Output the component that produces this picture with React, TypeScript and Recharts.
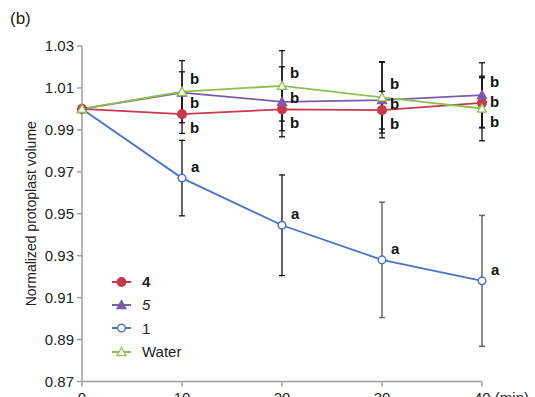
import React from 'react';
import { LineChart, Line, XAxis, YAxis, ErrorBar, LabelList } from 'recharts';

const TIMES = [0, 10, 20, 30, 40];
const Y_TICKS = [0.87, 0.89, 0.91, 0.93, 0.95, 0.97, 0.99, 1.01, 1.03];

const VAL_4 = [1.0, 0.9975, 0.9998, 0.9994, 1.0029];
const ERR_4 = [null, 0.0092, 0.0102, 0.009, 0.012];
const VAL_5 = [1.0, 1.0078, 1.0034, 1.0042, 1.0066];
const ERR_5 = [null, 0.0099, 0.0167, 0.018, 0.0154];
const VAL_1 = [1.0, 0.967, 0.9445, 0.928, 0.918];
const ERR_1_DARK = [null, 0.018, 0.024, null, null];
const ERR_1_GRAY = [null, null, null, 0.0275, 0.0312];
const VAL_W = [1.0, 1.0082, 1.011, 1.0055, 1.0002];
const ERR_W = [null, 0.0148, 0.0168, 0.017, 0.0154];

const SIG_1 = ['', 'a', 'a', 'a', 'a'];
const SIG_B = ['', 'b', 'b', 'b', 'b'];

const data = TIMES.map((t, i) => ({
  t,
  s4: VAL_4[i], e4: ERR_4[i],
  s5: VAL_5[i], e5: ERR_5[i],
  s1: VAL_1[i], e1d: ERR_1_DARK[i], e1g: ERR_1_GRAY[i],
  sw: VAL_W[i], ew: ERR_W[i],
  l1: SIG_1[i], lb: SIG_B[i],
}));

const RED = '#c8394b';
const PURPLE = '#7a5cab';
const BLUE = '#4774c6';
const GREEN = '#8cc152';
const FONT = '"Liberation Sans", Arial, sans-serif';

const W = 535, H = 397;
const M_TOP = 46, X_H = 15.5, Y_W = 82, M_RIGHT = 53;
const PLOT_H = H - M_TOP - X_H;
const PPU = PLOT_H / (1.03 - 0.87);

const circleDot = (fill: string, stroke: string, r: number) => (p: any) => {
  const { cx, cy, index } = p;
  if (cx == null || cy == null) return <g key={index} />;
  return <circle key={index} cx={cx} cy={cy} r={r} fill={fill} stroke={stroke} strokeWidth={1.5} />;
};
const triDot = (fill: string, stroke: string) => (p: any) => {
  const { cx, cy, index } = p;
  if (cx == null || cy == null) return <g key={index} />;
  const s = 4.5;
  return <path key={index} d={`M${cx},${cy - s} L${cx + s},${cy + s * 0.8} L${cx - s},${cy + s * 0.8} Z`} fill={fill} stroke={stroke} strokeWidth={1.3} />;
};

const B_KEYS = ['s4', 's5', 'sw'];
const bLabel = (key: string) => (p: any) => {
  const { x, y, index, value } = p;
  if (!value || x == null || y == null) return null;
  const row: any = data[index];
  const vals = B_KEYS.map((k) => row[k]);
  const own = row[key];
  const sorted = [...vals].sort((a, b) => b - a);
  let ly: number;
  if (own === sorted[0] && B_KEYS.indexOf(key) === vals.indexOf(sorted[0])) {
    ly = y - 13;
  } else if (own === sorted[2] && B_KEYS.indexOf(key) === vals.lastIndexOf(sorted[2])) {
    ly = y + 14;
  } else {
    const mid = (sorted[0] + sorted[2]) / 2;
    ly = y - (mid - own) * PPU;
  }
  return (
    <text x={x + 8} y={ly + 5} fontFamily={FONT} fontSize={15} fontWeight="bold" fill="#111">{value}</text>
  );
};
const aLabel = (p: any) => {
  const { x, y, value } = p;
  if (!value || x == null || y == null) return null;
  return <text x={x + 9} y={y - 6} fontFamily={FONT} fontSize={15} fontWeight="bold" fill="#111">{value}</text>;
};

const LEGEND = [
  { name: '4', color: RED, kind: 'circle', filled: true, style: { fontWeight: 'bold' as const } },
  { name: '5', color: PURPLE, kind: 'tri', filled: true, style: { fontStyle: 'italic' as const } },
  { name: '1', color: BLUE, kind: 'circle', filled: false, style: {} },
  { name: 'Water', color: GREEN, kind: 'tri', filled: false, style: {} },
];

const LegendBox = () => (
  <div style={{ position: 'absolute', left: 112, top: 270, fontFamily: FONT, fontSize: 15, color: '#222' }}>
    {LEGEND.map((it) => (
      <div key={it.name} style={{ display: 'flex', alignItems: 'center', height: 23.3 }}>
        <svg width={30} height={12} style={{ display: 'block' }}>
          <line x1={0} y1={6} x2={19} y2={6} stroke={it.color} strokeWidth={2} />
          {it.kind === 'circle' ? (
            <circle cx={9.5} cy={6} r={it.filled ? 4.3 : 3.8} fill={it.filled ? it.color : '#fff'} stroke={it.color} strokeWidth={1.4} />
          ) : (
            <path d="M9.5,1.5 L14,9.6 L5,9.6 Z" fill={it.filled ? it.color : '#fff'} stroke={it.color} strokeWidth={1.3} />
          )}
        </svg>
        <span style={it.style}>{it.name}</span>
      </div>
    ))}
  </div>
);

const XTick = (p: any) => {
  const { x, y, payload } = p;
  const last = payload.value === 40;
  return (
    <text x={last ? x - 8 : x} y={y + 14} textAnchor={last ? 'start' : 'middle'} fontFamily={FONT} fontSize={15} fill="#222">
      {last ? '40 (min)' : payload.value}
    </text>
  );
};

export default function App() {
  return (
    <div style={{ position: 'absolute', left: 0, top: 0, width: W, height: H, background: '#fff', overflow: 'hidden' }}>
      <div style={{ position: 'absolute', left: 10, top: 9, fontFamily: FONT, fontSize: 17, color: '#222' }}>(b)</div>
      <LineChart width={W} height={H} data={data} margin={{ top: M_TOP, right: M_RIGHT, bottom: 0, left: 0 }}>
        <XAxis
          dataKey="t"
          type="number"
          domain={[0, 40]}
          ticks={TIMES}
          height={X_H}
          stroke="#a0a0a0"
          strokeWidth={1.5}
          tickSize={5}
          tick={<XTick />}
        />
        <YAxis
          type="number"
          domain={[0.87, 1.03]}
          ticks={Y_TICKS}
          width={Y_W}
          stroke="#a0a0a0"
          strokeWidth={1.5}
          tickSize={5}
          tickMargin={3}
          allowDataOverflow
          tickFormatter={(v: number) => v.toFixed(2)}
          tick={{ fontFamily: FONT, fontSize: 15, fill: '#222' }}
          label={{
            content: () => (
              <text x={36} y={M_TOP + PLOT_H / 2} transform={`rotate(-90 36 ${M_TOP + PLOT_H / 2})`} textAnchor="middle" fontFamily={FONT} fontSize={14} fill="#222">
                Normalized protoplast volume
              </text>
            ),
          }}
        />
        <Line dataKey="s1" name="1" stroke={BLUE} strokeWidth={1.8} isAnimationActive={false} dot={circleDot('#fff', BLUE, 3.8)} activeDot={false}>
          <ErrorBar dataKey="e1d" width={3} stroke="#111" strokeWidth={1.3} direction="y" />
          <ErrorBar dataKey="e1g" width={3} stroke="#666" strokeWidth={1.5} direction="y" />
          <LabelList dataKey="l1" content={aLabel} />
        </Line>
        <Line dataKey="s4" name="4" stroke={RED} strokeWidth={1.8} isAnimationActive={false} dot={circleDot(RED, RED, 4.3)} activeDot={false}>
          <ErrorBar dataKey="e4" width={3} stroke="#111" strokeWidth={1.3} direction="y" />
          <LabelList dataKey="lb" content={bLabel('s4')} />
        </Line>
        <Line dataKey="s5" name="5" stroke={PURPLE} strokeWidth={1.8} isAnimationActive={false} dot={triDot(PURPLE, PURPLE)} activeDot={false}>
          <ErrorBar dataKey="e5" width={3} stroke="#111" strokeWidth={1.3} direction="y" />
          <LabelList dataKey="lb" content={bLabel('s5')} />
        </Line>
        <Line dataKey="sw" name="Water" stroke={GREEN} strokeWidth={1.8} isAnimationActive={false} dot={triDot('#fff', GREEN)} activeDot={false}>
          <ErrorBar dataKey="ew" width={3} stroke="#111" strokeWidth={1.3} direction="y" />
          <LabelList dataKey="lb" content={bLabel('sw')} />
        </Line>
      </LineChart>
      <LegendBox />
    </div>
  );
}
